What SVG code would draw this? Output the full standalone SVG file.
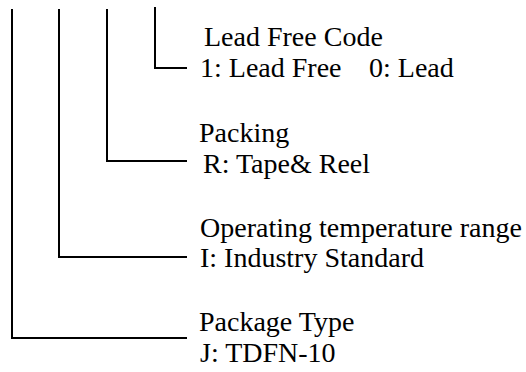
<svg xmlns="http://www.w3.org/2000/svg" width="526" height="372" viewBox="0 0 526 372">
<style>
.c{fill:none;stroke:#000;stroke-width:2;stroke-linecap:butt;stroke-linejoin:miter}
.t{font-family:"Liberation Serif","Times New Roman",serif;font-size:28px;fill:#000}
</style>
<rect width="526" height="372" fill="#fff"/>
<g id="connectors">
<path class="c" d="M12 9V338H187"/>
<path class="c" d="M59 9V257H187"/>
<path class="c" d="M107 9V161H187"/>
<path class="c" d="M155 7V68H187"/>
</g>
<g id="lead-free-code">
<text class="t" x="204" y="46">Lead Free Code</text>
<text class="t" x="200" y="77">1: Lead Free<tspan x="369">0: Lead</tspan></text>
</g>
<g id="packing">
<text class="t" x="199" y="142">Packing</text>
<text class="t" x="203" y="173">R: Tape&amp; Reel</text>
</g>
<g id="operating-temperature">
<text class="t" x="200" y="237">Operating temperature range</text>
<text class="t" x="200" y="267">I: Industry Standard</text>
</g>
<g id="package-type">
<text class="t" x="199" y="331">Package Type</text>
<text class="t" x="200" y="362">J: TDFN-10</text>
</g>
</svg>
